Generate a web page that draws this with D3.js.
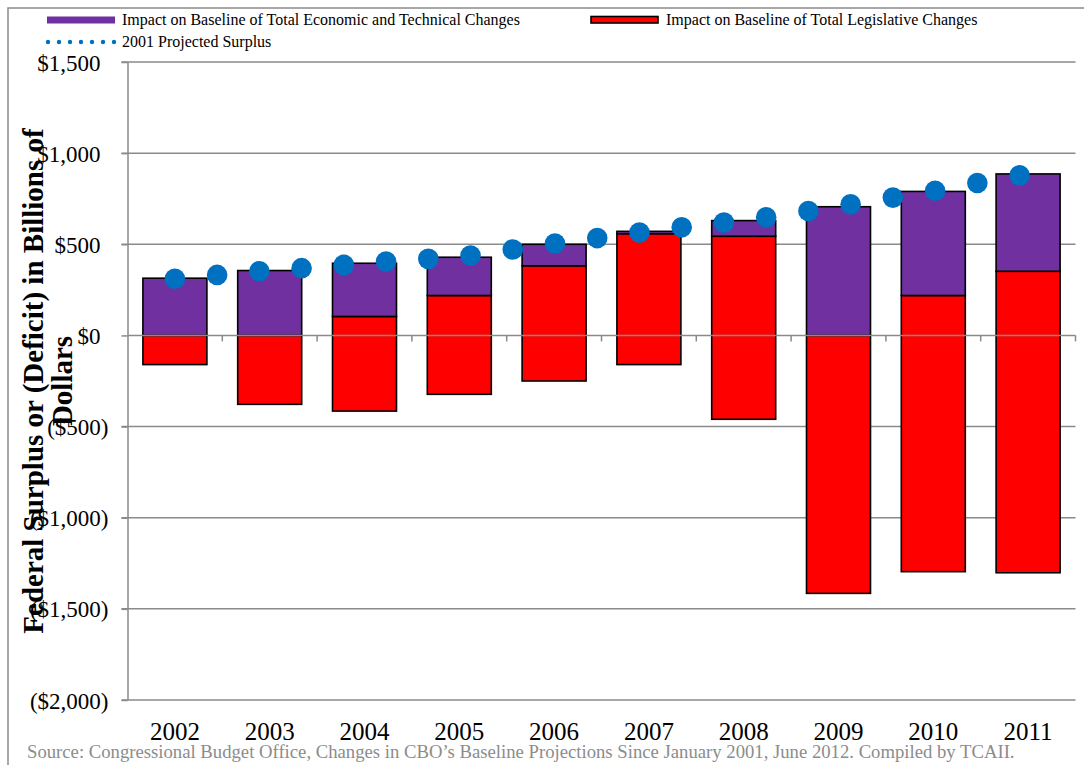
<!DOCTYPE html>
<html>
<head>
<meta charset="utf-8">
<script src="https://cdn.jsdelivr.net/npm/d3@7"></script>
<style>
  body { margin: 0; background: #fff; }
  svg { display: block; font-family: "Liberation Serif", "Times New Roman", serif; }
</style>
</head>
<body>
<svg width="1084" height="765"></svg>
<script>
// values in billions of dollars
var years = ["2002", "2003", "2004", "2005", "2006", "2007", "2008", "2009", "2010", "2011"];
var legisUp = [0, 0, 104, 219, 382, 558, 544, 0, 219, 352];
var econChange = [314, 356, 292, 210, 118, 13, 86, 706, 571, 534];
var legisDown = [-160, -378, -415, -323, -250, -160, -460, -1415, -1296, -1302];
var projSurplus = [311, 332, 352, 369, 387, 405, 420, 438, 471, 504, 534,
                   564, 593, 619, 648, 683, 719, 756, 794, 836, 878];
var yTicks = [1500, 1000, 500, 0, -500, -1000, -1500, -2000];

var gray = "#8a8a8a";
var purple = "#7030a0";
var red = "#ff0000";
var blue = "#0070c0";

var draw_chart = function() {
  var svg = d3.select("svg");
  var plotL = 127.5, plotR = 1075.5, plotT = 62, plotB = 700;

  var x = d3.scaleBand().domain(years).range([plotL, plotR])
    .paddingInner(0.325).paddingOuter(0.1625);
  var y = d3.scaleLinear().domain([-2000, 1500]).range([plotB, plotT]);
  var xDot = d3.scalePoint().domain(d3.range(projSurplus.length))
    .range([plotL + x.step() * 0.5, plotL + x.step() * 9.41]);

  // outer frame
  svg.append("rect")
    .attr("x", 8).attr("y", 8).attr("width", 1100).attr("height", 800)
    .attr("fill", "none").attr("stroke", gray).attr("stroke-width", 1.5);

  // gridlines (behind bars)
  svg.append("g").selectAll("line")
    .data(yTicks.filter(function(d) { return d !== 0; }))
    .enter().append("line")
      .attr("x1", plotL - 6).attr("x2", plotR)
      .attr("y1", function(d) { return y(d); })
      .attr("y2", function(d) { return y(d); })
      .attr("stroke", gray).attr("stroke-width", 1.5);

  var rows = years.map(function(yr, i) {
    return { year: yr, up: legisUp[i], econ: econChange[i], down: legisDown[i] };
  });

  var bars = svg.append("g");
  // red parts: from the negative end up to the positive part
  bars.selectAll(".red")
    .data(rows)
    .enter().append("rect")
      .attr("class", "red")
      .attr("x", function(d) { return x(d.year); })
      .attr("width", x.bandwidth())
      .attr("y", function(d) { return y(d.up); })
      .attr("height", function(d) { return y(d.down) - y(d.up); })
      .attr("fill", red).attr("stroke", "#000").attr("stroke-width", 1.6);

  bars.selectAll(".econ")
    .data(rows)
    .enter().append("rect")
      .attr("class", "econ")
      .attr("x", function(d) { return x(d.year); })
      .attr("width", x.bandwidth())
      .attr("y", function(d) { return y(d.up + d.econ); })
      .attr("height", function(d) { return y(d.up) - y(d.up + d.econ); })
      .attr("fill", purple).attr("stroke", "#000").attr("stroke-width", 1.6);

  // y axis
  var yAxis = svg.append("g").attr("transform", "translate(" + plotL + ",0)")
    .call(d3.axisLeft(y).tickValues(yTicks).tickSize(6).tickSizeOuter(0)
      .tickFormat(function(d) {
        var s = "$" + d3.format(",")(Math.abs(d));
        return d < 0 ? "(" + s + ")" : s;
      }));
  yAxis.select(".domain").attr("stroke", gray).attr("stroke-width", 1.5);
  yAxis.selectAll(".tick line").attr("stroke", gray).attr("stroke-width", 1.5);
  yAxis.selectAll(".tick text")
    .attr("font-family", "Liberation Serif").attr("font-size", 23).attr("fill", "#000")
    .attr("x", function(d) { return d < 0 ? -19 : -27; })
    .attr("dy", "0.35em");

  // zero line with category ticks, drawn over the bars
  var xAxis = svg.append("g").attr("transform", "translate(0," + y(0) + ")");
  xAxis.append("line")
    .attr("x1", plotL).attr("x2", plotR)
    .attr("stroke", gray).attr("stroke-width", 1.5);
  xAxis.selectAll(".tk")
    .data(years)
    .enter().append("line")
      .attr("x1", function(d) { return x(d) + x.bandwidth() + x.step() * x.paddingInner() / 2; })
      .attr("x2", function(d) { return x(d) + x.bandwidth() + x.step() * x.paddingInner() / 2; })
      .attr("y1", 0).attr("y2", 6)
      .attr("stroke", gray).attr("stroke-width", 1.5);

  // category labels along the bottom
  svg.append("g").selectAll("text")
    .data(years)
    .enter().append("text")
      .attr("x", function(d) { return x(d) + x.bandwidth() / 2; })
      .attr("y", 740)
      .attr("text-anchor", "middle")
      .attr("font-size", 25)
      .text(function(d) { return d; });

  // projected surplus dots
  svg.append("g").selectAll("circle")
    .data(projSurplus)
    .enter().append("circle")
      .attr("cx", function(d, i) { return xDot(i); })
      .attr("cy", function(d) { return y(d); })
      .attr("r", 10.3)
      .attr("fill", blue);

  // axis title
  var title = svg.append("text")
    .attr("transform", "translate(43,381) rotate(-90)")
    .attr("text-anchor", "middle")
    .attr("font-size", 29).attr("font-weight", "bold");
  title.append("tspan").attr("x", 0).attr("dy", 0)
    .text("Federal Surplus or (Deficit) in Billions of");
  title.append("tspan").attr("x", 0).attr("dy", 29).text("Dollars");

  // legend
  var legend = svg.append("g").attr("font-size", 16);
  legend.append("rect").attr("x", 47).attr("y", 16.5).attr("width", 68).attr("height", 7)
    .attr("fill", purple);
  legend.append("text").attr("x", 122).attr("y", 25)
    .text("Impact on Baseline of Total Economic and Technical Changes");
  legend.append("rect").attr("x", 591).attr("y", 16.5).attr("width", 67).attr("height", 6.5)
    .attr("fill", red).attr("stroke", "#000").attr("stroke-width", 1.6);
  legend.append("text").attr("x", 666).attr("y", 25)
    .text("Impact on Baseline of Total Legislative Changes");
  legend.append("g").selectAll("circle")
    .data(d3.range(7))
    .enter().append("circle")
      .attr("cx", function(d) { return 48 + d * 11; })
      .attr("cy", 42)
      .attr("r", 2.2)
      .attr("fill", blue);
  legend.append("text").attr("x", 122).attr("y", 47).text("2001 Projected Surplus");

  // source note
  svg.append("text")
    .attr("x", 27).attr("y", 758)
    .attr("font-size", 18.7).attr("fill", "#8c8c8c")
    .text("Source: Congressional Budget Office, Changes in CBO\u2019s Baseline Projections Since January 2001, June 2012. Compiled by TCAII.");
};

draw_chart();
</script>
</body>
</html>
